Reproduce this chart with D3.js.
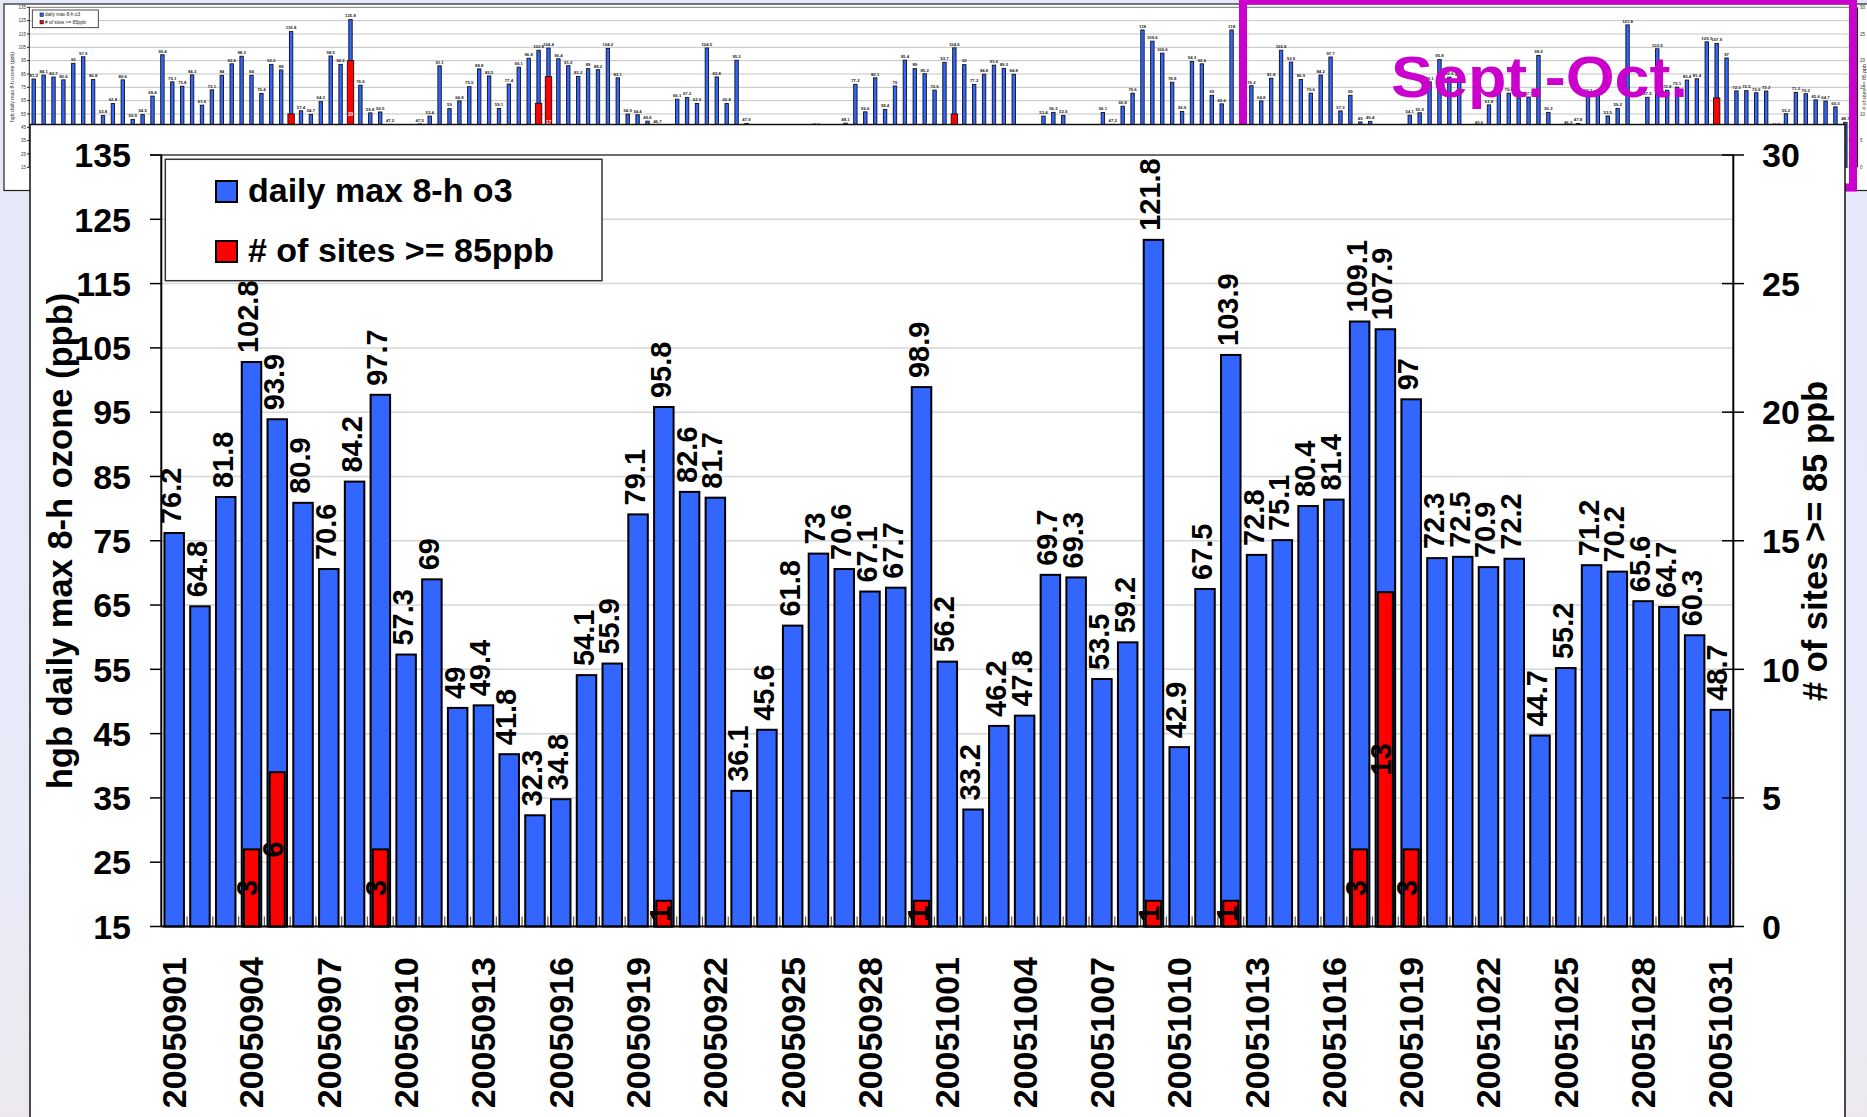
<!DOCTYPE html>
<html><head><meta charset="utf-8">
<script src="https://cdn.jsdelivr.net/npm/d3@7"></script>
<style>html,body{margin:0;padding:0;overflow:hidden;background:#e9ecf8}</style>
</head><body><svg id="c" width="1867" height="1117"></svg>
<script>
// ---------------- DATA ----------------
const dates = ["20050901","20050902","20050903","20050904","20050905","20050906","20050907","20050908","20050909","20050910",
"20050911","20050912","20050913","20050914","20050915","20050916","20050917","20050918","20050919","20050920",
"20050921","20050922","20050923","20050924","20050925","20050926","20050927","20050928","20050929","20050930",
"20051001","20051002","20051003","20051004","20051005","20051006","20051007","20051008","20051009","20051010",
"20051011","20051012","20051013","20051014","20051015","20051016","20051017","20051018","20051019","20051020",
"20051021","20051022","20051023","20051024","20051025","20051026","20051027","20051028","20051029","20051030","20051031"];
const ozone = [76.2,64.8,81.8,102.8,93.9,80.9,70.6,84.2,97.7,57.3,
69,49,49.4,41.8,32.3,34.8,54.1,55.9,79.1,95.8,
82.6,81.7,36.1,45.6,61.8,73,70.6,67.1,67.7,98.9,
56.2,33.2,46.2,47.8,69.7,69.3,53.5,59.2,121.8,42.9,
67.5,103.9,72.8,75.1,80.4,81.4,109.1,107.9,97,72.3,
72.5,70.9,72.2,44.7,55.2,71.2,70.2,65.6,64.7,60.3,48.7];
const sites = [0,0,0,3,6,0,0,0,3,0,
0,0,0,0,0,0,0,0,0,1,
0,0,0,0,0,0,0,0,0,1,
0,0,0,0,0,0,0,0,1,0,
0,1,0,0,0,0,3,13,3,0,
0,0,0,0,0,0,0,0,0,0,0];
// background season chart (May 1 - Aug 31), Sept-Oct follow from ozone[]
const mayAugOzone = [81.2,84.1,82.7,80.6,93,97.9,80.8,53.8,62.8,80.6,
50.9,54.5,68.4,99.4,79.1,75.8,84.3,61.6,73.1,84,
92.6,98.3,84,70.4,92.2,88,116.8,57.4,54.7,64.3,
98.5,92.2,125.8,76.6,55.8,56.5,47.2,40.8,43.2,47.5,
53.4,91.1,59,64.8,75.5,88.8,83.5,59.1,77.4,90.1,
96.8,102.8,104.4,96.4,91.2,83.2,89,88.2,104.2,82.1,
54.9,54.4,49.6,46.7,41.5,66.1,67.3,62.9,104.5,82.8,
62.8,95.3,47.9,39.5,37.8,38.6,42.6,40.2,39.1,44.1,
38.4,43.1,48.1,77.2,56.6,82.1,58.4,76,95.4,89,
85.2,72.9,93.7,104.6,92,77.2,84.8,91.6,89.2,84.8,
38.2,40.5,53.4,56.2,53.9,39.8,37.6,41.4,56.1,47.2,
60.8,70.6,118,109.6,100.6,78.8,56.9,94.3,92.6,69,
62.6,118,84];
const mayAugSiteDay = [26,32,51,52,93];
const mayAugSiteCount = [10,20,12,17,10];
const leftTicks = [15,25,35,45,55,65,75,85,95,105,115,125,135];
const rightTicks = [0,5,10,15,20,25,30];
const legendLabels = ["daily max 8-h o3","# of sites >= 85ppb"];
const yTitle = "hgb daily max 8-h ozone (ppb)";
const y2Title = "# of sites >= 85 ppb";
const boxLabel = "Sept.-Oct.";

// ---------------- DRAW ----------------
const FONT = "'Liberation Sans', Arial, Helvetica, sans-serif";
const BLUE = "#3366ff", RED = "#ff0000", MAG = "#cc00cc";
const svg = d3.select('#c').attr('font-family', FONT);
const defs = svg.append('defs');
const gr = defs.append('linearGradient').attr('id','bg').attr('x1',0).attr('y1',0).attr('x2',0).attr('y2',1);
gr.append('stop').attr('offset','0%').attr('stop-color','#e4e8f8');
gr.append('stop').attr('offset','75%').attr('stop-color','#e8ebf8');
gr.append('stop').attr('offset','100%').attr('stop-color','#ece8ee');
svg.append('rect').attr('width',1867).attr('height',1117).attr('fill','url(#bg)');

// ---- inset (whole season) ----
const inset = svg.append('g');
inset.append('rect').attr('x',4).attr('y',4).attr('width',1900).attr('height',186.5)
  .attr('fill','#fff').attr('stroke','#222').attr('stroke-width',1.2);
const season = mayAugOzone.concat(ozone);
const seasonSites = mayAugOzone.map(()=>0).concat(sites);
mayAugSiteDay.forEach((d,i)=>{ seasonSites[d] = mayAugSiteCount[i]; });
const ix = d3.scaleBand().domain(d3.range(season.length)).range([28.75, 1850.3]);
const iy = d3.scaleLinear().domain([15,135]).range([167.3, 7.3]);
const iy2 = d3.scaleLinear().domain([0,30]).range([167.3, 7.3]);
inset.selectAll('line.ig').data(leftTicks.slice(0,-1)).join('line')
  .attr('x1',29.3).attr('x2',1857).attr('y1',d=>iy(d)).attr('y2',d=>iy(d))
  .attr('stroke','#c4c4c4').attr('stroke-width',1);
inset.append('line').attr('x1',29.3).attr('x2',1857).attr('y1',iy(135)).attr('y2',iy(135))
  .attr('stroke','#777').attr('stroke-width',1);
inset.append('line').attr('x1',29.3).attr('x2',29.3).attr('y1',iy(135)).attr('y2',iy(15)).attr('stroke','#222');
inset.selectAll('line.itk').data(leftTicks).join('line')
  .attr('x1',27).attr('x2',29.3).attr('y1',d=>iy(d)).attr('y2',d=>iy(d)).attr('stroke','#222');
inset.selectAll('text.itl').data(leftTicks).join('text')
  .attr('x',26).attr('y',d=>iy(d)).attr('dy','0.35em').attr('text-anchor','end')
  .attr('font-size',4.5).attr('fill','#333').text(d=>d);
inset.append('text').attr('transform','translate(12.5,87) rotate(-90)').attr('text-anchor','middle')
  .attr('dy','0.35em').attr('font-size',5.2).attr('fill','#333').text(yTitle);
// right axis of inset
inset.append('line').attr('x1',1857.5).attr('x2',1857.5).attr('y1',iy(135)).attr('y2',iy(15)).attr('stroke','#222');
inset.selectAll('text.irl').data(rightTicks).join('text')
  .attr('x',1860).attr('y',d=>iy2(d)).attr('dy','0.35em').attr('font-size',4.5).attr('fill','#333').text(d=>d);
inset.append('text').attr('transform','translate(1864.5,87) rotate(-90)').attr('text-anchor','middle')
  .attr('dy','0.35em').attr('font-size',5.2).attr('fill','#333').text(y2Title);
// inset bars
const ibw = 3.4;
inset.selectAll('rect.ib').data(season).join('rect')
  .attr('x',(d,i)=>ix(i)+ix.bandwidth()/2-ibw/2).attr('width',ibw)
  .attr('y',d=>iy(d)).attr('height',d=>iy(15)-iy(d))
  .attr('fill',BLUE).attr('stroke','#111').attr('stroke-width',0.9);
inset.selectAll('rect.ir').data(season.map((d,i)=>i).filter(i=>seasonSites[i]>0)).join('rect')
  .attr('x',i=>ix(i)+ix.bandwidth()/2-3.2).attr('width',6.4)
  .attr('y',i=>iy2(seasonSites[i])).attr('height',i=>iy2(0)-iy2(seasonSites[i]))
  .attr('fill',RED).attr('stroke','#111').attr('stroke-width',0.9);
inset.selectAll('text.iv').data(season).join('text')
  .attr('x',(d,i)=>ix(i)+ix.bandwidth()/2).attr('y',d=>iy(d)-2.2)
  .attr('text-anchor','middle').attr('font-size',4.3).attr('font-weight','bold').attr('fill','#222').text(d=>d);
inset.selectAll('text.irv').data(season.map((d,i)=>i).filter(i=>seasonSites[i]>0)).join('text')
  .attr('x',i=>ix(i)+ix.bandwidth()/2).attr('y',i=>(iy2(seasonSites[i])+iy2(0))/2)
  .attr('dy','0.35em').attr('text-anchor','middle').attr('font-size',4.5).attr('font-weight','bold')
  .attr('fill','#fff').text(i=>seasonSites[i]);
// inset legend
inset.append('rect').attr('x',32.3).attr('y',10).attr('width',66).attr('height',17.7)
  .attr('fill','#fff').attr('stroke','#222').attr('stroke-width',0.8);
legendLabels.forEach((t,k)=>{
  inset.append('rect').attr('x',40).attr('y',13+k*7.5).attr('width',3.4).attr('height',3.4)
    .attr('fill',k?RED:BLUE).attr('stroke','#111').attr('stroke-width',0.6);
  inset.append('text').attr('x',45).attr('y',16.3+k*7.5).attr('font-size',4.8).attr('fill','#222').text(t);
});

// ---- magenta highlight box ----
svg.append('rect').attr('x',1243).attr('y',0.5).attr('width',610).attr('height',187)
  .attr('fill','none').attr('stroke',MAG).attr('stroke-width',8);
svg.append('text').attr('x',1391).attr('y',97).attr('font-size',57).attr('font-weight','bold')
  .attr('fill',MAG).attr('textLength',297).attr('lengthAdjust','spacingAndGlyphs').text(boxLabel);

// ---- main panel ----
svg.append('rect').attr('x',30).attr('y',124.5).attr('width',1815).attr('height',1100)
  .attr('fill','#fff').attr('stroke','#111').attr('stroke-width',1.5);

const x = d3.scaleBand().domain(d3.range(ozone.length)).range([161.3, 1733.3]);
const y = d3.scaleLinear().domain([15,135]).range([926.5, 155]);
const y2 = d3.scaleLinear().domain([0,30]).range([926.5, 155]);
const main = svg.append('g');
const cx = i => x(i) + x.bandwidth()/2;

main.selectAll('line.grid').data(leftTicks.slice(1,-1)).join('line')
  .attr('x1',161.3).attr('x2',1733.3).attr('y1',d=>y(d)).attr('y2',d=>y(d))
  .attr('stroke','#d6d6d6').attr('stroke-width',1.5);
main.append('line').attr('x1',150).attr('x2',1733.3).attr('y1',y(135)).attr('y2',y(135))
  .attr('stroke','#6d6d6d').attr('stroke-width',2);

// bars
const bw = 19.5, rw = 15;
main.selectAll('rect.bar').data(ozone).join('rect')
  .attr('x',(d,i)=>cx(i)-bw/2).attr('width',bw)
  .attr('y',d=>y(d)).attr('height',d=>y(15)-y(d))
  .attr('fill',BLUE).attr('stroke','#000').attr('stroke-width',2);
const redIdx = d3.range(sites.length).filter(i=>sites[i]>0);
main.selectAll('rect.red').data(redIdx).join('rect')
  .attr('x',i=>cx(i)-rw/2).attr('width',rw)
  .attr('y',i=>y2(sites[i])).attr('height',i=>y2(0)-y2(sites[i]))
  .attr('fill',RED).attr('stroke','#000').attr('stroke-width',2);

// x ticks (inside, at category boundaries)
main.selectAll('line.xt').data(d3.range(1, ozone.length)).join('line')
  .attr('x1',i=>x(i)).attr('x2',i=>x(i)).attr('y1',y(15)).attr('y2',y(15)-10)
  .attr('stroke','#555').attr('stroke-width',1.2);

// axes lines
main.append('line').attr('x1',161.3).attr('x2',161.3).attr('y1',y(135)).attr('y2',y(15)).attr('stroke','#000').attr('stroke-width',2);
main.append('line').attr('x1',1733.3).attr('x2',1733.3).attr('y1',y(135)).attr('y2',y(15)).attr('stroke','#000').attr('stroke-width',2);
main.append('line').attr('x1',161.3).attr('x2',1733.3).attr('y1',y(15)).attr('y2',y(15)).attr('stroke','#000').attr('stroke-width',2);

// left ticks + labels
main.selectAll('line.lt').data(leftTicks).join('line')
  .attr('x1',150).attr('x2',161.3).attr('y1',d=>y(d)).attr('y2',d=>y(d)).attr('stroke','#000').attr('stroke-width',1.5);
main.selectAll('text.ll').data(leftTicks).join('text')
  .attr('x',131).attr('y',d=>y(d)).attr('dy','0.36em').attr('text-anchor','end')
  .attr('font-size',34).attr('font-weight','bold').attr('fill','#000').text(d=>d);
// right ticks + labels
main.selectAll('line.rt').data(rightTicks).join('line')
  .attr('x1',1722).attr('x2',1744).attr('y1',d=>y2(d)).attr('y2',d=>y2(d)).attr('stroke','#000').attr('stroke-width',1.5);
main.selectAll('text.rl').data(rightTicks).join('text')
  .attr('x',1762).attr('y',d=>y2(d)).attr('dy','0.36em').attr('text-anchor','start')
  .attr('font-size',34).attr('font-weight','bold').attr('fill','#000').text(d=>d);

// x labels every 3 days
main.selectAll('text.xl').data(d3.range(0, dates.length, 3)).join('text')
  .attr('transform',i=>`translate(${cx(i)+12},957) rotate(-90)`)
  .attr('text-anchor','end').attr('font-size',34).attr('font-weight','bold').attr('fill','#000')
  .text(i=>dates[i]);

// value labels
main.selectAll('text.vl').data(ozone).join('text')
  .attr('transform',(d,i)=>`translate(${cx(i)+7},${y(d)-9}) rotate(-90)`)
  .attr('text-anchor','start').attr('font-size',29).attr('font-weight','bold').attr('fill','#000')
  .text(d=>d);
main.selectAll('text.rv').data(redIdx).join('text')
  .attr('transform',i=>`translate(${cx(i)+6},${(y2(sites[i])+y2(0))/2}) rotate(-90)`)
  .attr('text-anchor','middle').attr('font-size',29).attr('font-weight','bold').attr('fill','#000')
  .text(i=>sites[i]);

// axis titles
main.append('text').attr('transform','translate(60,541) rotate(-90)').attr('text-anchor','middle')
  .attr('dy','0.35em').attr('font-size',34.5).attr('font-weight','bold').attr('fill','#000').text(yTitle);
main.append('text').attr('transform','translate(1815,541) rotate(-90)').attr('text-anchor','middle')
  .attr('dy','0.35em').attr('font-size',34.5).attr('font-weight','bold').attr('fill','#000').text(y2Title);

// legend
main.append('rect').attr('x',165.3).attr('y',159.3).attr('width',436.7).attr('height',121.4)
  .attr('fill','#fff').attr('stroke','#333').attr('stroke-width',1.5);
legendLabels.forEach((t,k)=>{
  main.append('rect').attr('x',216).attr('y',181+k*60).attr('width',21).attr('height',21)
    .attr('fill',k?RED:BLUE).attr('stroke','#000').attr('stroke-width',2);
  main.append('text').attr('x',248).attr('y',202+k*60).attr('font-size',34).attr('font-weight','bold')
    .attr('fill','#000').text(t);
});
</script></body></html>
